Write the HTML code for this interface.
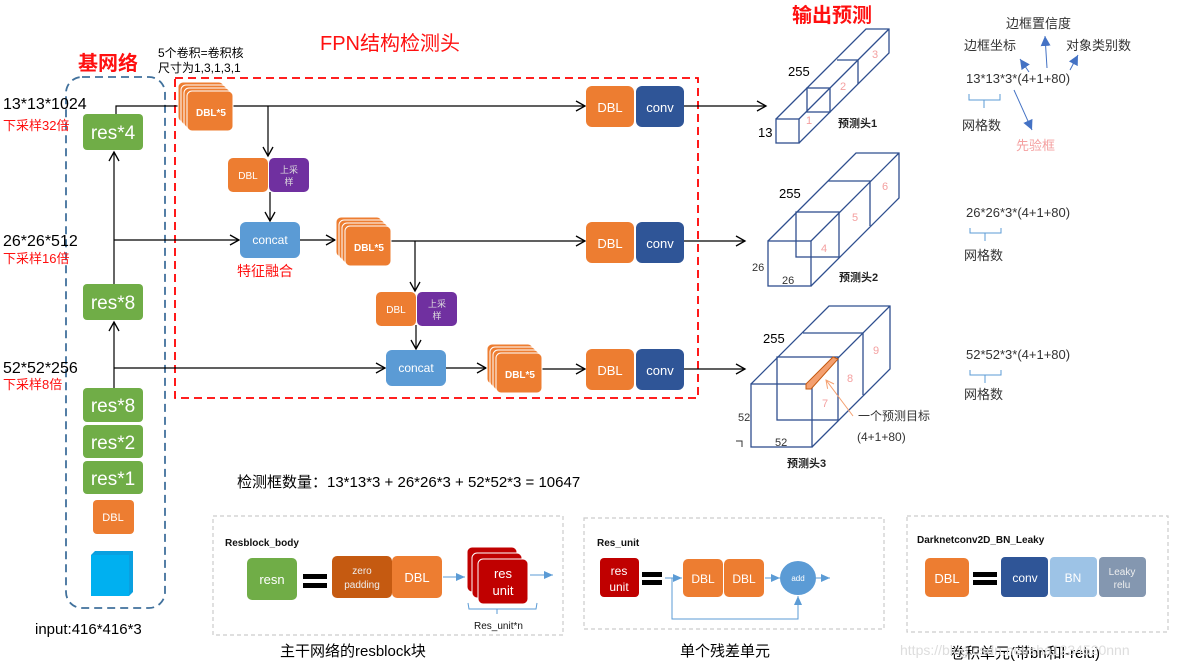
<!DOCTYPE html>
<html><head><meta charset="utf-8"><style>
html,body{margin:0;padding:0;background:#fff;}
svg{display:block;font-family:"Liberation Sans","Noto Sans CJK SC",sans-serif;}
</style></head><body>
<svg width="1180" height="668" viewBox="0 0 1180 668" xmlns="http://www.w3.org/2000/svg">
<defs>
<marker id="a" markerWidth="12" markerHeight="12" refX="10" refY="6" orient="auto" markerUnits="userSpaceOnUse"><path d="M1,1 L10,6 L1,11" fill="none" stroke="#000" stroke-width="1.3"/></marker>
<marker id="b" markerWidth="10" markerHeight="10" refX="9" refY="5" orient="auto" markerUnits="userSpaceOnUse"><path d="M0,1 L9,5 L0,9 Z" fill="#5b9bd5"/></marker>
<marker id="c" markerWidth="12" markerHeight="12" refX="10" refY="6" orient="auto" markerUnits="userSpaceOnUse"><path d="M0,1 L10,6 L0,11 Z" fill="#4472c4"/></marker>
<marker id="o" markerWidth="10" markerHeight="10" refX="9" refY="5" orient="auto" markerUnits="userSpaceOnUse"><path d="M1,1 L9,5 L1,9" fill="none" stroke="#f4a070" stroke-width="1"/></marker>
<g id="dbl5">
<rect x="0" y="0" width="46" height="40" rx="5" fill="#ed7d31" stroke="#fff" stroke-width="1"/>
<rect x="3" y="3" width="46" height="40" rx="5" fill="#ed7d31" stroke="#fff" stroke-width="1"/>
<rect x="6" y="6" width="46" height="40" rx="5" fill="#ed7d31" stroke="#fff" stroke-width="1"/>
<rect x="9" y="9" width="46" height="40" rx="5" fill="#ed7d31" stroke="#fff" stroke-width="1"/>
<text x="33" y="34" font-size="10" font-weight="bold" fill="#fff" text-anchor="middle">DBL*5</text>
</g>
<g id="dc">
<rect x="0" y="0" width="48" height="41" rx="6" fill="#ed7d31"/>
<text x="24" y="26" font-size="13" fill="#fff" text-anchor="middle">DBL</text>
<rect x="50" y="0" width="48" height="41" rx="6" fill="#2f5597"/>
<text x="74" y="26" font-size="13" fill="#fff" text-anchor="middle">conv</text>
</g>
<g id="up">
<rect x="0" y="0" width="40" height="34" rx="5" fill="#ed7d31"/>
<text x="20" y="21" font-size="10" fill="#fff" text-anchor="middle">DBL</text>
<rect x="41" y="0" width="40" height="34" rx="5" fill="#7030a0"/>
<text x="61" y="15" font-size="9" fill="#ddd" text-anchor="middle">上采</text>
<text x="61" y="27" font-size="9" fill="#ddd" text-anchor="middle">样</text>
</g>
</defs>

<!-- titles -->
<text x="78" y="70" font-size="20" font-weight="bold" fill="#ff1010">基网络</text>
<text x="320" y="50" font-size="20" fill="#ff1010">FPN结构检测头</text>
<text x="792" y="22" font-size="20" font-weight="bold" fill="#ff1010">输出预测</text>
<text x="158" y="57" font-size="12" fill="#000">5个卷积=卷积核</text>
<text x="158" y="72" font-size="12" fill="#000">尺寸为1,3,1,3,1</text>

<!-- containers -->
<rect x="66" y="77" width="99" height="531" rx="16" fill="none" stroke="#41719c" stroke-width="1.8" stroke-dasharray="8,5"/>
<rect x="175" y="78" width="523" height="320" fill="none" stroke="#ff0000" stroke-width="1.8" stroke-dasharray="8,5"/>

<!-- left labels -->
<text x="3" y="109" font-size="16">13*13*1024</text>
<text x="3" y="130" font-size="13" fill="#ff1010">下采样32倍</text>
<text x="3" y="246" font-size="16">26*26*512</text>
<text x="3" y="263" font-size="13" fill="#ff1010">下采样16倍</text>
<text x="3" y="373" font-size="16">52*52*256</text>
<text x="3" y="389" font-size="13" fill="#ff1010">下采样8倍</text>

<!-- backbone boxes -->
<g font-size="19" fill="#fff" text-anchor="middle">
<rect x="83" y="114" width="60" height="36" rx="4" fill="#70ad47"/><text x="113" y="139">res*4</text>
<rect x="83" y="284" width="60" height="36" rx="4" fill="#70ad47"/><text x="113" y="309">res*8</text>
<rect x="83" y="388" width="60" height="34" rx="4" fill="#70ad47"/><text x="113" y="412">res*8</text>
<rect x="83" y="425" width="60" height="33" rx="4" fill="#70ad47"/><text x="113" y="449">res*2</text>
<rect x="83" y="461" width="60" height="33" rx="4" fill="#70ad47"/><text x="113" y="485">res*1</text>
</g>
<rect x="93" y="500" width="41" height="34" rx="4" fill="#ed7d31"/><text x="113" y="521" font-size="11" fill="#fff" text-anchor="middle">DBL</text>
<rect x="91" y="555" width="38" height="41" fill="#00b0f0"/>
<path d="M91,555 L95,551 L133,551 L133,592 L129,596" fill="#0aa0e0" stroke="none"/>
<rect x="91" y="555" width="38" height="41" fill="#00b0f0"/>
<text x="35" y="634" font-size="15">input:416*416*3</text>

<!-- backbone arrows -->
<g stroke="#000" stroke-width="1.2" fill="none">
<line x1="114" y1="284" x2="114" y2="152" marker-end="url(#a)"/>
<line x1="114" y1="388" x2="114" y2="322" marker-end="url(#a)"/>
<polyline points="116,114 116,106 178,106"/>
<line x1="232" y1="106" x2="585" y2="106" marker-end="url(#a)"/>
<line x1="268" y1="106" x2="268" y2="156" marker-end="url(#a)"/>
<line x1="270" y1="192" x2="270" y2="221" marker-end="url(#a)"/>
<line x1="114" y1="240" x2="239" y2="240" marker-end="url(#a)"/>
<line x1="300" y1="240" x2="335" y2="240" marker-end="url(#a)"/>
<line x1="390" y1="241" x2="585" y2="241" marker-end="url(#a)"/>
<line x1="415" y1="241" x2="415" y2="291" marker-end="url(#a)"/>
<line x1="416" y1="325" x2="416" y2="349" marker-end="url(#a)"/>
<line x1="114" y1="368" x2="385" y2="368" marker-end="url(#a)"/>
<line x1="446" y1="368" x2="486" y2="368" marker-end="url(#a)"/>
<line x1="541" y1="369" x2="585" y2="369" marker-end="url(#a)"/>
<line x1="684" y1="106" x2="766" y2="106" marker-end="url(#a)"/>
<line x1="684" y1="241" x2="745" y2="241" marker-end="url(#a)"/>
<line x1="684" y1="369" x2="745" y2="369" marker-end="url(#a)"/>
</g>

<use href="#dbl5" x="178" y="82"/>
<use href="#dbl5" x="336" y="217"/>
<use href="#dbl5" x="487" y="344"/>
<use href="#up" x="228" y="158"/>
<use href="#up" x="376" y="292"/>
<use href="#dc" x="586" y="86"/>
<use href="#dc" x="586" y="222"/>
<use href="#dc" x="586" y="349"/>
<rect x="240" y="222" width="60" height="36" rx="6" fill="#5b9bd5"/>
<text x="270" y="244" font-size="12" fill="#fff" text-anchor="middle">concat</text>
<text x="237" y="276" font-size="14" fill="#ff1010">特征融合</text>
<rect x="386" y="350" width="60" height="36" rx="6" fill="#5b9bd5"/>
<text x="416" y="372" font-size="12" fill="#fff" text-anchor="middle">concat</text>

<!-- cubes -->
<g fill="none" stroke="#2f4f8f" stroke-width="1.3">
<rect x="776" y="119" width="23" height="24"/>
<path d="M776,119 L866,29 L889,29 L889,53 L799,143 M799,119 L889,29"/>
<rect x="807" y="88" width="23" height="24"/>
<path d="M837,60 L858,60 L858,84"/>
<rect x="768" y="241" width="43" height="45"/>
<path d="M768,241 L856,153 L899,153 L899,198 L811,286 M811,241 L899,153"/>
<rect x="796" y="212" width="43" height="45"/>
<path d="M828,181 L870,181 L870,226"/>
<rect x="751" y="384" width="61" height="63"/>
<path d="M751,384 L829,306 L890,306 L890,369 L812,447 M812,384 L890,306"/>
<rect x="777" y="357" width="61" height="63"/>
<path d="M803,333 L863,333 L863,395"/>
</g>
<path d="M742,447 L742,441 L736,441" fill="none" stroke="#333" stroke-width="1"/>
<polygon points="806,384 833,357 838,359 811,389 806,389" fill="#f4a070" stroke="#c55a11" stroke-width="1"/>
<line x1="853" y1="416" x2="826" y2="380" stroke="#f4a070" stroke-width="1" marker-end="url(#o)"/>
<g fill="#f4a0a0" font-size="11">
<text x="806" y="124">1</text><text x="840" y="90">2</text><text x="872" y="58">3</text>
<text x="821" y="252">4</text><text x="852" y="221">5</text><text x="882" y="190">6</text>
<text x="822" y="407">7</text><text x="847" y="382">8</text><text x="873" y="354">9</text>
</g>
<g font-size="13" fill="#000">
<text x="788" y="76">255</text><text x="758" y="137">13</text>
<text x="779" y="198">255</text>
<text x="763" y="343">255</text>
</g>
<g font-size="11" fill="#333">
<text x="752" y="271">26</text><text x="782" y="284">26</text>
<text x="738" y="421">52</text><text x="775" y="446">52</text>
</g>
<g font-size="11" font-weight="bold" fill="#222">
<text x="838" y="127">预测头1</text><text x="839" y="281">预测头2</text><text x="787" y="467">预测头3</text>
</g>
<text x="858" y="420" font-size="12" fill="#333">一个预测目标</text>
<text x="857" y="441" font-size="12" fill="#333">(4+1+80)</text>

<!-- right annotations -->
<g font-size="13" fill="#333">
<text x="1006" y="28">边框置信度</text>
<text x="964" y="50">边框坐标</text>
<text x="1066" y="50">对象类别数</text>
<text x="966" y="83">13*13*3*(4+1+80)</text>
<text x="962" y="130">网格数</text>
<text x="966" y="217">26*26*3*(4+1+80)</text>
<text x="964" y="260">网格数</text>
<text x="966" y="359">52*52*3*(4+1+80)</text>
<text x="964" y="399">网格数</text>
</g>
<text x="1016" y="150" font-size="13" fill="#f4a0a0">先验框</text>
<g stroke="#4472c4" stroke-width="1" fill="none">
<line x1="1029" y1="72" x2="1020" y2="59" marker-end="url(#c)"/>
<line x1="1047" y1="68" x2="1045" y2="36" marker-end="url(#c)"/>
<line x1="1070" y1="70" x2="1078" y2="55" marker-end="url(#c)"/>
<line x1="1014" y1="90" x2="1032" y2="130" marker-end="url(#c)"/>
</g>
<g stroke="#5b9bd5" stroke-width="1" fill="none">
<path d="M969,94 L969,100 L1000,100 L1000,94 M984,100 L984,108"/>
<path d="M970,228 L970,233 L1001,233 L1001,228 M985,233 L985,241"/>
<path d="M970,370 L970,375 L1001,375 L1001,370 M985,375 L985,383"/>
</g>

<text x="237" y="487" font-size="15" fill="#000">检测框数量：13*13*3 + 26*26*3 + 52*52*3 = 10647</text>

<!-- bottom panels -->
<g fill="none" stroke="#ccc" stroke-width="1.2" stroke-dasharray="4,3">
<rect x="213" y="516" width="350" height="119"/>
<rect x="584" y="518" width="300" height="111"/>
<rect x="907" y="516" width="261" height="116"/>
</g>
<g font-size="10" font-weight="bold" fill="#111">
<text x="225" y="546">Resblock_body</text>
<text x="597" y="546">Res_unit</text>
<text x="917" y="543">Darknetconv2D_BN_Leaky</text>
</g>
<!-- panel1 -->
<rect x="247" y="558" width="50" height="42" rx="5" fill="#70ad47"/><text x="272" y="584" font-size="13" fill="#fff" text-anchor="middle">resn</text>
<rect x="303" y="574" width="24" height="5" fill="#000"/><rect x="303" y="583" width="24" height="5" fill="#000"/>
<rect x="332" y="556" width="60" height="42" rx="5" fill="#c55a11"/>
<text x="362" y="574" font-size="10" fill="#eee" text-anchor="middle">zero</text><text x="362" y="588" font-size="10" fill="#eee" text-anchor="middle">padding</text>
<rect x="392" y="556" width="50" height="42" rx="5" fill="#ed7d31"/><text x="417" y="582" font-size="13" fill="#fff" text-anchor="middle">DBL</text>
<line x1="443" y1="577" x2="465" y2="577" stroke="#5b9bd5" marker-end="url(#b)"/>
<rect x="467" y="547" width="50" height="45" rx="5" fill="#c00000" stroke="#fff"/>
<rect x="472" y="553" width="50" height="45" rx="5" fill="#c00000" stroke="#fff"/>
<rect x="478" y="559" width="50" height="45" rx="5" fill="#c00000" stroke="#fff"/>
<text x="503" y="578" font-size="13" fill="#fff" text-anchor="middle">res</text><text x="503" y="595" font-size="13" fill="#fff" text-anchor="middle">unit</text>
<line x1="530" y1="575" x2="553" y2="575" stroke="#5b9bd5" marker-end="url(#b)"/>
<path d="M468,603 L469,609 L536,609 L537,603 M497,609 L497,614" fill="none" stroke="#5b9bd5"/>
<text x="474" y="629" font-size="10" fill="#111">Res_unit*n</text>
<text x="280" y="656" font-size="15" fill="#000">主干网络的resblock块</text>
<!-- panel2 -->
<rect x="600" y="558" width="39" height="39" rx="4" fill="#c00000"/>
<text x="619" y="575" font-size="12" fill="#fff" text-anchor="middle">res</text><text x="619" y="591" font-size="12" fill="#fff" text-anchor="middle">unit</text>
<rect x="642" y="572" width="20" height="5" fill="#000"/><rect x="642" y="580" width="20" height="5" fill="#000"/>
<line x1="665" y1="578" x2="682" y2="578" stroke="#5b9bd5" marker-end="url(#b)"/>
<rect x="683" y="559" width="40" height="38" rx="5" fill="#ed7d31"/><text x="703" y="583" font-size="12" fill="#fff" text-anchor="middle">DBL</text>
<rect x="724" y="559" width="40" height="38" rx="5" fill="#ed7d31"/><text x="744" y="583" font-size="12" fill="#fff" text-anchor="middle">DBL</text>
<line x1="765" y1="578" x2="780" y2="578" stroke="#5b9bd5" marker-end="url(#b)"/>
<ellipse cx="798" cy="578" rx="18" ry="17" fill="#5b9bd5"/><text x="798" y="581" font-size="8" fill="#fff" text-anchor="middle">add</text>
<line x1="816" y1="578" x2="830" y2="578" stroke="#5b9bd5" marker-end="url(#b)"/>
<polyline points="672,578 672,619 798,619 798,596" fill="none" stroke="#5b9bd5" marker-end="url(#b)"/>
<text x="680" y="656" font-size="15" fill="#000">单个残差单元</text>
<!-- panel3 -->
<rect x="925" y="558" width="44" height="39" rx="5" fill="#ed7d31"/><text x="947" y="583" font-size="13" fill="#fff" text-anchor="middle">DBL</text>
<rect x="973" y="572" width="24" height="5" fill="#000"/><rect x="973" y="580" width="24" height="5" fill="#000"/>
<rect x="1001" y="557" width="47" height="40" rx="4" fill="#2f5597"/><text x="1025" y="582" font-size="12" fill="#fff" text-anchor="middle">conv</text>
<rect x="1050" y="557" width="47" height="40" rx="4" fill="#9dc3e6"/><text x="1073" y="582" font-size="12" fill="#fff" text-anchor="middle">BN</text>
<rect x="1099" y="557" width="47" height="40" rx="4" fill="#8497b0"/>
<text x="1122" y="575" font-size="10" fill="#eee" text-anchor="middle">Leaky</text><text x="1122" y="588" font-size="10" fill="#eee" text-anchor="middle">relu</text>
<text x="950" y="658" font-size="15" fill="#000">卷积单元(带bn和l-relu)</text>
<text x="900" y="655" font-size="14" fill="#ddd">https://blog.csdn.net/sha1234520nnn</text>
</svg>
</body></html>
